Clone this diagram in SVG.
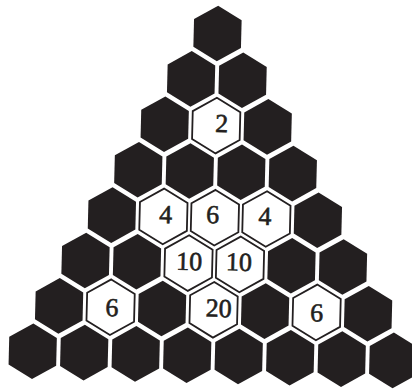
<svg xmlns="http://www.w3.org/2000/svg" xmlns:xlink="http://www.w3.org/1999/xlink" width="412" height="390" viewBox="0 0 412 390">
<style>
.hb{fill:#231f20;stroke:none}
.hw{fill:#ffffff;stroke:#231f20;stroke-width:1.8;stroke-linejoin:miter}
.t{font-family:"Liberation Serif","Times New Roman",serif;font-size:26px;fill:#231f20;stroke:#231f20;stroke-width:0.6;text-anchor:middle}
</style>
<defs>
<polygon id="hex" points="0,-27.8 23.8,-13.9 23.8,13.9 0,27.8 -23.8,13.9 -23.8,-13.9"/>
</defs>
<rect width="412" height="390" fill="#ffffff"/>
<g id="n0-0" transform="translate(217.5,33.5) rotate(1.4)"><use href="#hex" class="hb"/></g>
<g id="n1-0" transform="translate(191.1,78.9) rotate(1.4)"><use href="#hex" class="hb"/></g>
<g id="n1-1" transform="translate(242.6,80.2) rotate(1.4)"><use href="#hex" class="hb"/></g>
<g id="n2-0" transform="translate(164.7,124.3) rotate(1.4)"><use href="#hex" class="hb"/></g>
<g id="n2-1" transform="translate(216.2,125.6) rotate(1.4)"><use href="#hex" class="hw"/><text class="t" x="5.5" y="6.5">2</text></g>
<g id="n2-2" transform="translate(267.7,126.9) rotate(1.4)"><use href="#hex" class="hb"/></g>
<g id="n3-0" transform="translate(138.3,169.7) rotate(1.4)"><use href="#hex" class="hb"/></g>
<g id="n3-1" transform="translate(189.8,171.0) rotate(1.4)"><use href="#hex" class="hb"/></g>
<g id="n3-2" transform="translate(241.3,172.3) rotate(1.4)"><use href="#hex" class="hb"/></g>
<g id="n3-3" transform="translate(292.8,173.6) rotate(1.4)"><use href="#hex" class="hb"/></g>
<g id="n4-0" transform="translate(111.9,215.1) rotate(1.4)"><use href="#hex" class="hb"/></g>
<g id="n4-1" transform="translate(163.4,216.4) rotate(1.4)"><use href="#hex" class="hw"/><text class="t" x="2.3" y="6.6">4</text></g>
<g id="n4-2" transform="translate(214.9,217.7) rotate(1.4)"><use href="#hex" class="hw"/><text class="t" x="-2.3" y="5.5">6</text></g>
<g id="n4-3" transform="translate(266.4,219.0) rotate(1.4)"><use href="#hex" class="hw"/><text class="t" x="-1.5" y="6">4</text></g>
<g id="n4-4" transform="translate(317.9,220.3) rotate(1.4)"><use href="#hex" class="hb"/></g>
<g id="n5-0" transform="translate(85.5,260.5) rotate(1.4)"><use href="#hex" class="hb"/></g>
<g id="n5-1" transform="translate(137.0,261.8) rotate(1.4)"><use href="#hex" class="hb"/></g>
<g id="n5-2" transform="translate(188.5,263.1) rotate(1.4)"><use href="#hex" class="hw"/><text class="t" x="0.7" y="7">10</text></g>
<g id="n5-3" transform="translate(240.0,264.4) rotate(1.4)"><use href="#hex" class="hw"/><text class="t" x="-1.2" y="6.3">10</text></g>
<g id="n5-4" transform="translate(291.5,265.7) rotate(1.4)"><use href="#hex" class="hb"/></g>
<g id="n5-5" transform="translate(343.0,267.0) rotate(1.4)"><use href="#hex" class="hb"/></g>
<g id="n6-0" transform="translate(59.1,305.9) rotate(1.4)"><use href="#hex" class="hb"/></g>
<g id="n6-1" transform="translate(110.6,307.2) rotate(1.4)"><use href="#hex" class="hw"/><text class="t" x="1.4" y="9">6</text></g>
<g id="n6-2" transform="translate(162.1,308.5) rotate(1.4)"><use href="#hex" class="hb"/></g>
<g id="n6-3" transform="translate(213.6,309.8) rotate(1.4)"><use href="#hex" class="hw"/><text class="t" x="5" y="7">20</text></g>
<g id="n6-4" transform="translate(265.1,311.1) rotate(1.4)"><use href="#hex" class="hb"/></g>
<g id="n6-5" transform="translate(316.6,312.4) rotate(1.4)"><use href="#hex" class="hw"/><text class="t" x="0" y="9">6</text></g>
<g id="n6-6" transform="translate(368.1,313.7) rotate(1.4)"><use href="#hex" class="hb"/></g>
<g id="n7-0" transform="translate(32.7,351.3) rotate(1.4)"><use href="#hex" class="hb"/></g>
<g id="n7-1" transform="translate(84.2,352.6) rotate(1.4)"><use href="#hex" class="hb"/></g>
<g id="n7-2" transform="translate(135.7,353.9) rotate(1.4)"><use href="#hex" class="hb"/></g>
<g id="n7-3" transform="translate(187.2,355.2) rotate(1.4)"><use href="#hex" class="hb"/></g>
<g id="n7-4" transform="translate(238.7,356.5) rotate(1.4)"><use href="#hex" class="hb"/></g>
<g id="n7-5" transform="translate(290.2,357.8) rotate(1.4)"><use href="#hex" class="hb"/></g>
<g id="n7-6" transform="translate(341.7,359.1) rotate(1.4)"><use href="#hex" class="hb"/></g>
<g id="n7-7" transform="translate(393.2,360.4) rotate(1.4)"><use href="#hex" class="hb"/></g>
</svg>
